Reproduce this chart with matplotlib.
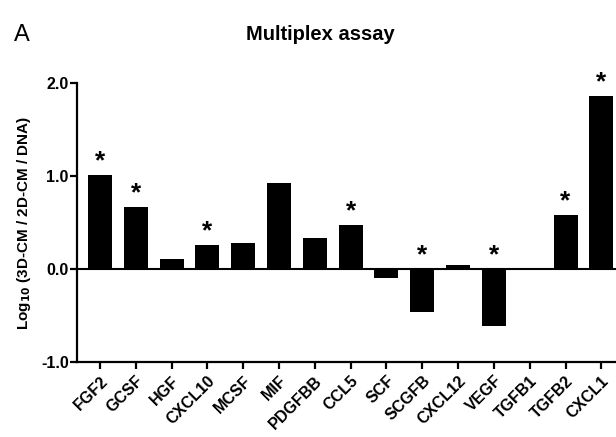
import numpy as np
import matplotlib
matplotlib.use("Agg")
import matplotlib.pyplot as plt

# Datos
citoquinas = ["FGF2", "GCSF", "HGF", "CXCL10", "MCSF", "MIF", "PDGFBB", "CCL5",
              "SCF", "SCGFB", "CXCL12", "VEGF", "TGFB1", "TGFB2", "CXCL1"]
valores = [1.01, 0.67, 0.11, 0.255, 0.28, 0.93, 0.33, 0.47,
           -0.10, -0.46, 0.04, -0.61, 0.0, 0.58, 1.86]
significativo = [True, True, False, True, False, False, False, True,
                 False, True, False, True, False, True, True]

plt.rcParams['font.family'] = ['Liberation Sans', 'DejaVu Sans']
plt.rcParams['font.weight'] = 'bold'

fig = plt.figure(figsize=(6.16, 4.37), dpi=100)
ax = fig.add_axes([0.125, 0.1716, 0.875, 0.6384])

x = np.arange(len(citoquinas))
ax.bar(x, valores, width=0.67, color='black', zorder=2)
ax.axhline(0, color='black', lw=1.5, zorder=3)

# Asteriscos
for xi, v, s in zip(x, valores, significativo):
    if s:
        y = max(v, 0) + 0.02
        ax.text(xi, y, "*", ha='center', va='bottom', fontsize=19, fontweight='bold')

ax.set_xlim(-0.64, 14.41)
ax.set_ylim(-1.0, 2.0)
ax.set_yticks([-1.0, 0.0, 1.0, 2.0])
ax.set_yticklabels(["-1.0", "0.0", "1.0", "2.0"])
ax.set_xticks(x)
ax.set_xticklabels(citoquinas, rotation=45, ha='right', rotation_mode='anchor')

for sp in ['top', 'right']:
    ax.spines[sp].set_visible(False)
for sp in ['left', 'bottom']:
    ax.spines[sp].set_linewidth(1.6)
ax.tick_params(axis='both', direction='out', length=5, width=1.6, labelsize=11.5)
ax.tick_params(axis='x', pad=3)
ax.tick_params(axis='y', pad=1)

ax.set_ylabel("Log$_{\\mathbf{10}}$ (3D-CM / 2D-CM / DNA)", fontsize=11, fontweight='bold', labelpad=6)

fig.text(0.52, 0.92, "Multiplex assay", ha='center', va='center', fontsize=14.5, fontweight='bold')
fig.text(0.036, 0.92, "A", ha='center', va='center', fontsize=17, fontweight='normal')

fig.savefig("out.png", dpi=100)
